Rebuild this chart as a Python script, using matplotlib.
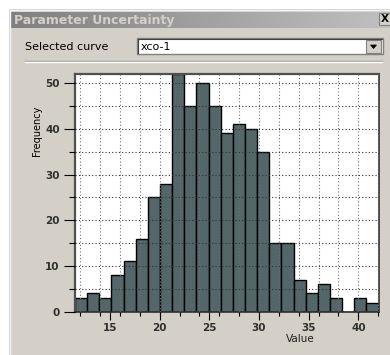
import numpy as np
import matplotlib
matplotlib.use('Agg')
import matplotlib.pyplot as plt
from matplotlib.patches import Rectangle, Polygon
from matplotlib.colors import LinearSegmentedColormap
from matplotlib.ticker import FixedLocator

# histogram data (xco-1)
counts = [3, 4, 3, 8, 11, 16, 25, 28, 52, 45, 50, 45, 39,
          41, 40, 35, 15, 15, 7, 4, 6, 3, 0, 3, 2]
value_min = 11.48
value_max = 42.03
x_major = [15, 20, 25, 30, 35, 40]
x_minor = [12, 14, 16, 18, 20, 22, 24, 26, 28, 30, 32, 34, 36, 38, 40, 42]
y_major = [0, 10, 20, 30, 40, 50]
y_minor = [5, 15, 25, 35, 45]
curve_name = 'xco-1'

W, H = 390, 355
WIN = '#d4d0c8'

fig = plt.figure(figsize=(W / 100, H / 100), dpi=100)
fig.patch.set_facecolor(WIN)

# background axes in pixel coordinates for the dialog chrome
bg = fig.add_axes([0, 0, 1, 1])
bg.axis('off')

bg.add_patch(Rectangle((0, 0), W, 9, facecolor='white', edgecolor='none'))
bg.add_patch(Rectangle((0, 0), 9, H, facecolor='white', edgecolor='none'))
bg.plot([10, 10], [10, H], color='#f4f4f4', lw=1)
bg.plot([10, W], [10, 10], color='#f4f4f4', lw=1)

# inactive title bar
grad = LinearSegmentedColormap.from_list('title', ['#808080', '#c0c0c0'])
bg.imshow(np.linspace(0, 1, 256)[None, :], cmap=grad, extent=(11, W, 28, 12),
          aspect='auto', interpolation='bilinear')
bg.text(14, 20.5, 'Parameter Uncertainty', color=WIN, fontsize=9,
        fontweight='bold', ha='left', va='center')
bg.add_patch(Rectangle((379, 13), 12, 12, facecolor=WIN, edgecolor='#808080', lw=0.8))
bg.text(385, 19.5, 'X', fontsize=7.5, fontweight='bold', ha='center', va='center')

# selector row
bg.text(25, 46.5, 'Selected curve', fontsize=8, ha='left', va='center')
bg.add_patch(Rectangle((137, 38), 246, 16, facecolor='white', edgecolor='#808080', lw=1))
bg.plot([138, 138, 382], [53, 39, 39], color='#404040', lw=0.8)
bg.text(141, 46.5, curve_name, fontsize=8, ha='left', va='center')
bg.add_patch(Rectangle((366, 40), 15, 13, facecolor=WIN, edgecolor='#808080', lw=0.8))
bg.add_patch(Polygon([(370.5, 45), (376.5, 45), (373.5, 48.5)], closed=True,
                     facecolor='black', edgecolor='black', lw=0.5))
bg.plot([25, 382], [61, 61], color='#a0a0a0', lw=1)
bg.plot([25, 382], [62, 62], color='white', lw=1)

# plot labels outside the canvas
bg.text(37, 131, 'Frequency', fontsize=7, rotation=90, ha='center', va='center')
bg.text(300, 338.5, 'Value', fontsize=7.5, ha='center', va='center', color='#202020')

bg.set_xlim(0, W)
bg.set_ylim(H, 0)

# histogram canvas
ax = fig.add_axes([75 / W, 1 - 311.7 / H, 303.5 / W, 237.7 / H])
ax.set_facecolor('white')
edges = np.linspace(value_min, value_max, len(counts) + 1)
ax.bar(edges[:-1], counts, width=np.diff(edges), align='edge',
       color='#536669', edgecolor='black', linewidth=1.0, zorder=1)
ax.set_xlim(value_min, value_max)
ax.set_ylim(0, 52)

ax.xaxis.set_major_locator(FixedLocator(x_major))
ax.xaxis.set_minor_locator(FixedLocator(x_minor))
ax.yaxis.set_major_locator(FixedLocator(y_major))
ax.yaxis.set_minor_locator(FixedLocator(y_minor))
ax.xaxis.remove_overlapping_locs = False

ax.set_axisbelow(False)
ax.grid(False)
ax.xaxis.grid(True, which='minor', color='#707070', linestyle=(0, (1, 2)), lw=0.8)
ax.yaxis.grid(True, which='both', color='#303030', linestyle=(0, (1, 2)), lw=0.8)

ax.tick_params(axis='x', which='major', length=6, width=0.8, pad=2,
               labelsize=7.5, labelcolor='#303030')
ax.tick_params(axis='x', which='minor', length=3, width=0.8)
ax.tick_params(axis='y', which='major', length=8, width=0.8, pad=3,
               labelsize=7.5, labelcolor='#303030')
ax.tick_params(axis='y', which='minor', length=4.5, width=0.8)
for lab in ax.get_xticklabels() + ax.get_yticklabels():
    lab.set_fontweight('bold')

for side in ['left', 'top']:
    ax.spines[side].set_color('#505050')
    ax.spines[side].set_linewidth(1.6)
for side in ['right', 'bottom']:
    ax.spines[side].set_color('#303030')
    ax.spines[side].set_linewidth(1.2)

fig.savefig('out.png', dpi=100, facecolor=fig.get_facecolor())
